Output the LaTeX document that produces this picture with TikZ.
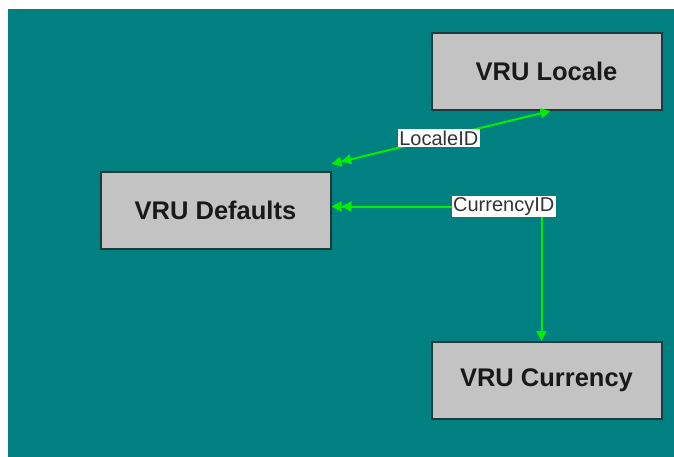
\documentclass[tikz,border=0pt]{standalone}
\usepackage{fontspec}
\setmainfont{Liberation Sans}
\usetikzlibrary{arrows.meta,positioning,calc}
\definecolor{bgteal}{HTML}{008080}
\definecolor{boxgray}{HTML}{C3C3C3}
\definecolor{boxline}{HTML}{1C3B3B}
\definecolor{linkgreen}{HTML}{00F000}
\tikzset{
  vrubox/.style={draw=boxline, fill=boxgray, line width=2pt, minimum width=230pt,
    minimum height=77pt, inner sep=0pt, text=black!90,
    font=\fontsize{25.5}{28}\selectfont\bfseries},
  link/.style={draw=linkgreen, line width=2pt,
    {Triangle[length=10pt,width=10pt]Triangle[length=10pt,width=10pt]}-{Triangle[length=10pt,width=10pt]}},
  linklabel/.style={fill=white, text=black!80, inner sep=1.5pt,
    font=\fontsize{20}{22}\selectfont}
}

\begin{document}
\begin{tikzpicture}[x=1pt,y=-1pt]
            \useasboundingbox (0,0) rectangle (674,457);
            \fill[white] (0,0) rectangle (674,457);
            \fill[bgteal] (8,9) rectangle (674,457);
            \node[vrubox] (locale) at (546.5,71.5) {VRU Locale};
            \node[vrubox] (dflt) at (215.5,210.5) {VRU Defaults};
            \node[vrubox] (currency) at (546.5,380.5) {VRU Currency};
            \draw[link] ([yshift=7pt]dflt.north east) -- ([xshift=4pt]locale.south)
                node[linklabel, pos=0.49] (localeid) {LocaleID};
            \draw[link] ([yshift=4pt]dflt.east) -| ([xshift=-5pt]currency.north)
                node[linklabel, pos=0.41] (currencyid) {CurrencyID};
        \end{tikzpicture}
\end{document}
